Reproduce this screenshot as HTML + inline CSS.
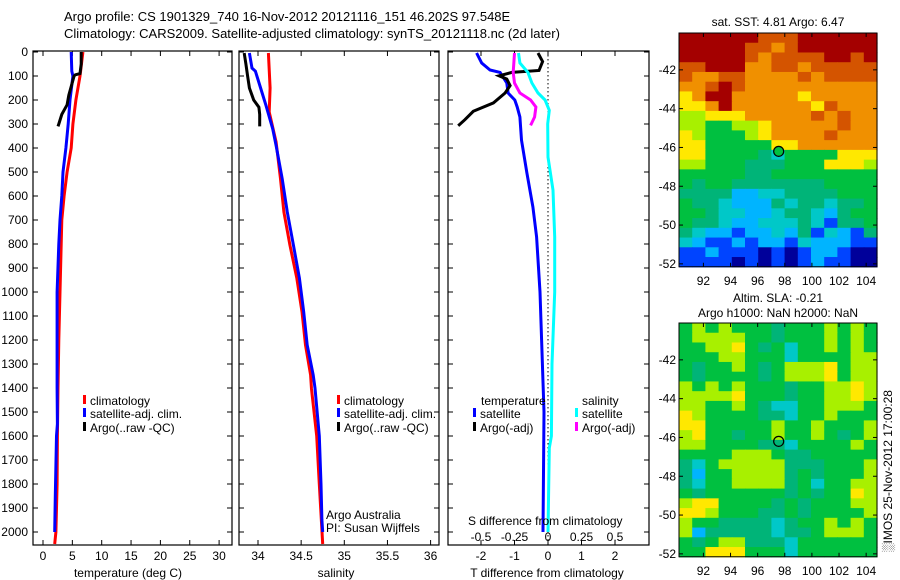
<!DOCTYPE html>
<html><head><meta charset="utf-8">
<style>
html,body{margin:0;padding:0;background:#fff;}
svg{display:block;font-family:"Liberation Sans",sans-serif;}
text{fill:#000;}
</style></head>
<body>
<svg id="fig" width="900" height="580" viewBox="0 0 900 580" xmlns="http://www.w3.org/2000/svg">
<text x="64" y="21" font-size="13">Argo profile: CS 1901329_740 16-Nov-2012 20121116_151 46.202S 97.548E</text>
<text x="64" y="38" font-size="13">Climatology: CARS2009. Satellite-adjusted climatology: synTS_20121118.nc (2d later)</text>
<g id="g"></g>
</svg>
<script>
// ---- data ----
const tDepth = [0,80,100,200,300,400,500,600,700,800,1000,1200,1400,1600,1800,2000,2050];
const tClim  = [6.8,6.4,6.3,5.6,5.1,4.8,4.1,3.6,3.2,3.1,2.9,2.7,2.55,2.45,2.4,2.2,2.0];
const tSatDepth = [0,80,100,200,300,400,500,600,700,800,1000,1200,1400,1550,1600,1850,2000];
const tSat   = [4.8,4.9,5.1,4.6,4.3,3.9,3.4,3.2,2.9,2.7,2.4,2.4,2.4,2.45,2.3,2.1,2.0];
const argoDepth = [0,50,90,95,100,180,220,260,300,310];
const tArgo  = [6.5,6.5,6.3,5.5,5.3,4.4,4.1,3.2,2.7,2.55];

const sClimDepth = [4,150,250,375,525,667,804,942,1083,1221,1346,1404,1600,1800,2050];
const sClim  = [34.12,34.14,34.13,34.21,34.26,34.30,34.37,34.45,34.51,34.55,34.61,34.62,34.68,34.71,34.75];
const sSatDepth = [4,67,80,150,220,320,390,528,667,804,942,1083,1221,1346,1400,1600,1800,1950,2000];
const sSat   = [33.90,33.93,33.97,34.03,34.09,34.17,34.21,34.28,34.34,34.41,34.48,34.53,34.57,34.64,34.66,34.71,34.73,34.74,34.75];
const sArgoDepth = [4,50,100,150,200,230,260,310];
const sArgo  = [33.84,33.86,33.88,33.90,33.95,34.01,34.02,34.02];

const dTSatDepth = [4,46,75,85,129,171,200,229,271,367,504,646,771,1000,1500,2000];
const dTSat  = [-2.13,-1.98,-1.73,-1.43,-1.23,-1.19,-0.99,-0.92,-0.84,-0.79,-0.63,-0.45,-0.34,-0.24,-0.12,-0.15];
const dTArgoDepth = [4,40,77,85,99,113,140,171,212,247,282,307];
const dTArgo = [-0.3,-0.16,-0.27,-1.08,-1.46,-1.23,-1.13,-1.28,-1.63,-2.23,-2.48,-2.68];
const dSSatDepth = [4,46,85,129,171,200,243,299,438,576,771,1000,1300,1600,1650,2000];
const dSSat  = [-0.22,-0.21,-0.15,-0.12,-0.075,-0.022,0.01,-0.002,0,0.037,0.05,0.05,0.03,0.025,0.01,0.0];
const dSArgoDepth = [4,85,129,171,200,229,271,306];
const dSArgo = [-0.25,-0.26,-0.25,-0.21,-0.13,-0.09,-0.10,-0.13];

const depthTicks = [0,100,200,300,400,500,600,700,800,900,1000,1100,1200,1300,1400,1500,1600,1700,1800,1900,2000];
const tTicks = [0,5,10,15,20,25,30];
const sTicks = [34,34.5,35,35.5,36];
const sTickLabels = ['34','34.5','35','35.5','36'];
const dTTicks = [-2,-1,0,1,2];
const dSTicks = [-0.5,-0.25,0,0.25,0.5];
const dSTickLabels = ['-0.5','-0.25','0','0.25','0.5'];
const lonTicks = [92,94,96,98,100,102,104];
const latTicks = [-42,-44,-46,-48,-50,-52];

// map grids: rows from -40.1 to -52.15 (0.5 deg), cols 15 across lon 90.2..104.8
const sstGrid = [
"aaaaaa999aaaaaa",
"aaaaa9989aaaaaa",
"aaaaa989999aa9a",
"99aaa8899899999",
"988998888989999",
"889a98888888888",
"78aa88888788888",
"778a88888879888",
"667778888898988",
"665566788888988",
"765556788889888",
"775555577888888",
"775555435555777",
"665554445557776",
"555554455555555",
"545544444445555",
"444422334444555",
"544322243443445",
"554332234432455",
"544322333431445",
"432212232413214",
"321121221322211",
"112111010122100",
"111101010121100"];
const slaGrid = [
"565655545556565",
"566665545556565",
"556675453556565",
"555665553555566",
"545565456667566",
"545555456667566",
"656565554556676",
"666675554556676",
"665565433556665",
"765555443556555",
"775555565565556",
"675545565565456",
"665555443555565",
"555566654455555",
"435666664445556",
"425566664545556",
"435566664535566",
"545555554545576",
"677555545455566",
"776555445455556",
"655444434556565",
"624444434456665",
"545664443555555",
"557775553555555"];
const palette = {'0':'#00009a','1':'#0044ff','2':'#00b4ff','3':'#00c8c8','4':'#00b478','5':'#00c040','6':'#a8f000','7':'#ffe800','8':'#f09000','9':'#d45400','a':'#a40000'};

// ---- helpers ----
const NS='http://www.w3.org/2000/svg';
const G=document.getElementById('g');
function mk(tag,attrs,parent){const e=document.createElementNS(NS,tag);for(const k in attrs)e.setAttribute(k,attrs[k]);(parent||G).appendChild(e);return e;}
function txt(x,y,s,anchor,size,parent){const t=mk('text',{x:x,y:y,'font-size':size||12,'text-anchor':anchor||'start'},parent);t.textContent=s;return t;}

const yTop=51, yBot=545;
const yD = d => 52 + d*0.24;
const xT = v => 43 + v*5.87;
const xS = v => 258 + (v-34)*86.3;
const xDT = v => 548 + v*33.5;
const xDS = v => 548 + v*134;

function line(xs,ys,xf,color,name){
  const pts=xs.map((v,i)=>xf(v).toFixed(1)+','+yD(ys[i]).toFixed(1)).join(' ');
  const p=mk('polyline',{points:pts,fill:'none',stroke:color,'stroke-width':3,'stroke-linejoin':'miter'});
  
  
}
function frame(x0,x1,name){
  const r=mk('rect',{x:x0,y:yTop,width:x1-x0,height:yBot-yTop,fill:'none',stroke:'#000','stroke-width':1.2});
  
  
  depthTicks.forEach(d=>{const y=yD(d);mk('line',{x1:x0,x2:x0+5,y1:y,y2:y,stroke:'#000'});mk('line',{x1:x1,x2:x1-5,y1:y,y2:y,stroke:'#000'});});
}
function xticks(vals,labels,xf,y0,name){
  vals.forEach((v,i)=>{const x=xf(v);mk('line',{x1:x,x2:x,y1:yBot,y2:yBot-5,stroke:'#000'});mk('line',{x1:x,x2:x,y1:yTop,y2:yTop+5,stroke:'#000'});
    const t=txt(x,y0,labels[i],'middle');
    
    });
}
function legendEntry(x,y,color,label,name){
  mk('rect',{x:x,y:y-10,width:3,height:9,fill:color});
  const t=txt(x+7,y,label);
  
  
}

// ---- panel 1: temperature ----
frame(33,232,'temperature-panel');
depthTicks.forEach(d=>{const t=txt(28,yD(d)+4,String(d),'end');
  
  });
xticks(tTicks,tTicks.map(String),xT,560,'temperature-tick-label');
line(tClim,tDepth,xT,'#ff0000','temperature-climatology-line');
line(tSat,tSatDepth,xT,'#0000ff','temperature-satellite-line');
line(tArgo,argoDepth,xT,'#000000','temperature-argo-line');
legendEntry(83,405,'#ff0000','climatology','legend-climatology');
legendEntry(83,418,'#0000ff','satellite-adj. clim.','legend-satellite');
legendEntry(83,432,'#000000','Argo(..raw -QC)','legend-argo');
{const t=txt(128,577,'temperature (deg C)','middle');}

// ---- panel 2: salinity ----
frame(239,439,'salinity-panel');
xticks(sTicks,sTickLabels,xS,560,'salinity-tick-label');
line(sClim,sClimDepth,xS,'#ff0000','salinity-climatology-line');
line(sSat,sSatDepth,xS,'#0000ff','salinity-satellite-line');
line(sArgo,sArgoDepth,xS,'#000000','salinity-argo-line');
legendEntry(337,405,'#ff0000','climatology','legend-s-climatology');
legendEntry(337,418,'#0000ff','satellite-adj. clim.','legend-s-satellite');
legendEntry(337,432,'#000000','Argo(..raw -QC)','legend-s-argo');
{const t=txt(326,519,'Argo Australia');}
{const t=txt(326,532,'PI: Susan Wijffels');}
{const t=txt(336,577,'salinity','middle');}

// ---- panel 3: differences ----
frame(448,649,'difference-panel');
mk('line',{x1:548,x2:548,y1:yTop,y2:yBot,stroke:'#000','stroke-dasharray':'1.5,2.5'});
dTTicks.forEach(v=>{const x=xDT(v);mk('line',{x1:x,x2:x,y1:yBot,y2:yBot-5,stroke:'#000'});mk('line',{x1:x,x2:x,y1:yTop,y2:yTop+5,stroke:'#000'});
  const t=txt(x,560,String(v),'middle');});
line(dTSat,dTSatDepth,xDT,'#0000ff','t-diff-satellite-line');
line(dTArgo,dTArgoDepth,xDT,'#000000','t-diff-argo-line');
line(dSSat,dSSatDepth,xDS,'#00ffff','s-diff-satellite-line');
line(dSArgo,dSArgoDepth,xDS,'#ff00ff','s-diff-argo-line');
dSTicks.forEach((v,i)=>{const t=txt(xDS(v),541,dSTickLabels[i],'middle');});
{const t=txt(468,525,'S difference from climatology');}
{const t=txt(547,577,'T difference from climatology','middle');}
{const t=txt(481,405,'temperature');}
{const t=txt(582,405,'salinity');}
legendEntry(473,418,'#0000ff','satellite','legend-t-satellite');
legendEntry(473,432,'#000000','Argo(-adj)','legend-t-argo');
legendEntry(575,418,'#00ffff','satellite','legend-s-satellite-diff');
legendEntry(575,432,'#ff00ff','Argo(-adj)','legend-s-argo-diff');

// ---- maps ----
function drawMap(y0,grid,name,fillCircle){
  const x0=679,x1=877,lon0=90.2,lon1=104.8,lat0=-40.1,lat1=-52.15;
  const h=(lat0-lat1)*19.4;
  const xL=v=>x0+(v-lon0)*(x1-x0)/(lon1-lon0);
  const yL=v=>y0+(lat0-v)*19.4;
  const g=mk('g',{});
  
  
  const rows=grid.length, cols=grid[0].length;
  const cw=(x1-x0)/cols, chh=h/rows;
  grid.forEach((row,r)=>{for(let c=0;c<cols;c++){
    mk('rect',{x:(x0+c*cw).toFixed(2),y:(y0+r*chh).toFixed(2),width:(cw+0.6).toFixed(2),height:(chh+0.6).toFixed(2),fill:palette[row[c]]},g);}});
  mk('rect',{x:x0,y:y0,width:x1-x0,height:h,fill:'none',stroke:'#000','stroke-width':1},g);
  lonTicks.forEach(v=>{const x=xL(v);mk('line',{x1:x,x2:x,y1:y0,y2:y0+4,stroke:'#000'},g);mk('line',{x1:x,x2:x,y1:y0+h,y2:y0+h-4,stroke:'#000'},g);
    const t=txt(x,y0+h+18,String(v),'middle',12,g);});
  latTicks.forEach(v=>{const y=yL(v);mk('line',{x1:x0,x2:x0+4,y1:y,y2:y,stroke:'#000'},g);mk('line',{x1:x1,x2:x1-4,y1:y,y2:y,stroke:'#000'},g);
    const t=txt(676,y+4,String(v),'end',12,g);});
  const c=mk('circle',{cx:xL(97.55),cy:yL(-46.2),r:5,fill:fillCircle,stroke:'#000','stroke-width':1.2},g);
  
  
}
drawMap(33,sstGrid,'sst-map','#00c040');
drawMap(323,slaGrid,'sla-map','none');
{const t=txt(778,26,'sat. SST: 4.81  Argo: 6.47','middle');}
{const t=txt(778,302,'Altim. SLA: -0.21','middle');}
{const t=txt(778,317,'Argo h1000: NaN h2000: NaN','middle');}
{const t=txt(0,0,'\u2591IMOS 25-Nov-2012 17:00:28','start',12);t.setAttribute('transform','translate(892,552) rotate(-90)');}
</script>
</body></html>
